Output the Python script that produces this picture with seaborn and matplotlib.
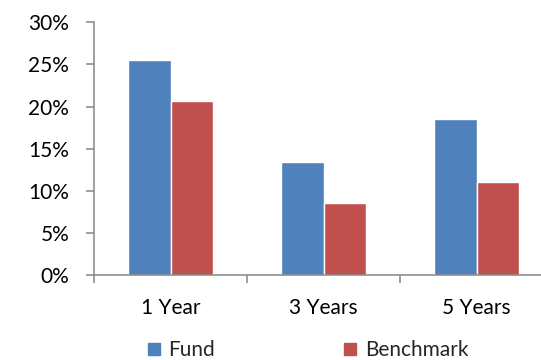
import matplotlib
matplotlib.use("Agg")
import matplotlib.pyplot as plt
import seaborn as sns
import pandas as pd
from matplotlib.lines import Line2D
from matplotlib.ticker import FuncFormatter, FixedLocator

# Annualised returns (%) by holding period
periods = ["1 Year", "3 Years", "5 Years"]
fund = [25.5, 13.4, 18.5]
benchmark = [20.6, 8.6, 11.1]
series_names = ["Fund", "Benchmark"]
colors = ["#4F81BD", "#C0504D"]

df = pd.DataFrame({
    "period": periods * 2,
    "series": [series_names[0]] * 3 + [series_names[1]] * 3,
    "value": fund + benchmark,
})

sns.set_theme(style="white")
plt.rcParams["font.family"] = ["Lato", "DejaVu Sans"]

W, H = 541, 360
fig = plt.figure(figsize=(W / 100, H / 100), dpi=100)
ax = fig.add_axes([94 / W, 85 / H, 459 / W, 252.7 / H])

sns.barplot(data=df, x="period", y="value", hue="series", order=periods,
            hue_order=series_names, palette=colors, width=0.56,
            edgecolor="white", linewidth=1.0, saturation=1, legend=False, ax=ax)

axis_gray = "#868686"
ax.set_xlim(-0.5, 2.5)
ax.set_ylim(0, 30)
ax.set_yticks(range(0, 31, 5))
ax.yaxis.set_major_formatter(FuncFormatter(lambda v, _: f"{v:.0f}%"))
ax.set_xlabel("")
ax.set_ylabel("")

for side in ("top", "right"):
    ax.spines[side].set_visible(False)
for side in ("left", "bottom"):
    ax.spines[side].set_color(axis_gray)
    ax.spines[side].set_linewidth(1.1)

ax.tick_params(axis="y", which="major", direction="out", length=5.8, width=1.1,
               color=axis_gray, pad=12, labelsize=15, labelcolor="black", left=True)
ax.tick_params(axis="x", which="major", length=0, pad=16.5, labelsize=15,
               labelcolor="black")
ax.xaxis.set_minor_locator(FixedLocator([-0.5, 0.5, 1.5, 2.5]))
ax.tick_params(axis="x", which="minor", direction="out", length=5.8, width=1.1,
               color=axis_gray, bottom=True)

handles = [Line2D([], [], marker="s", linestyle="none", markersize=8.2,
                  markerfacecolor=c, markeredgecolor=c) for c in colors]
fig.legend(handles, series_names, loc="center", bbox_to_anchor=(308 / W, 1 - 350 / H),
           ncol=2, frameon=False, fontsize=15, handlelength=0.6, handletextpad=0.4,
           columnspacing=6.2, borderpad=0)

fig.savefig("out.png", dpi=100)
